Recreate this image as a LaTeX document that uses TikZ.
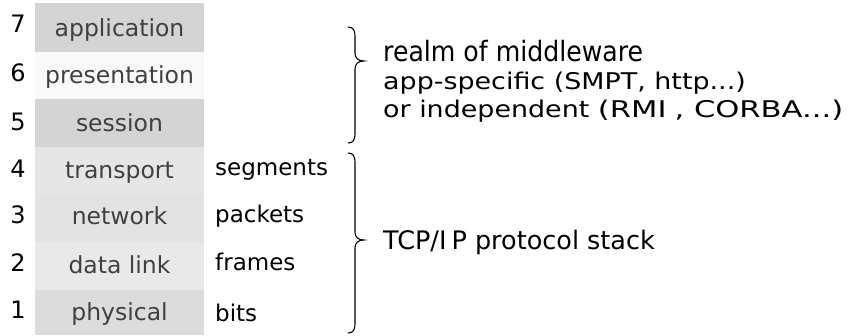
\documentclass[tikz,border=0pt]{standalone}
\usepackage{fontspec}
\setmainfont{DejaVu Sans}
\newfontfamily\widesans[FakeStretch=1.17]{DejaVu Sans}
\newfontfamily\widersans[FakeStretch=1.33]{DejaVu Sans}
\newfontfamily\tallsans[FakeStretch=0.9]{DejaVu Sans}
\definecolor{rowdark}{HTML}{D4D4D4}
\definecolor{rowwhite}{HTML}{F9F9F9}
\definecolor{rowfour}{HTML}{E6E6E6}
\definecolor{rowthree}{HTML}{E3E3E3}
\definecolor{rowtwo}{HTML}{E9E9E9}
\definecolor{rowone}{HTML}{DCDCDC}
\definecolor{layertext}{HTML}{404040}
% brace on the right of a group of layers: top, tip and bottom heights
\newcommand\layerbrace[3]{%
  \draw[bracepen] (348,#1) .. controls (353,#1) and (355,#1+3) .. (355,#1+9)
    -- (355,#2-8) .. controls (355,#2-3) and (358,#2) .. (364,#2)
    .. controls (358,#2) and (355,#2+3) .. (355,#2+8)
    -- (355,#3-9) .. controls (355,#3-3) and (353,#3) .. (348,#3);}
\begin{document}
\begin{tikzpicture}[x=1pt,y=-1pt,
  layername/.style={font=\fontsize{23.5}{26}\selectfont,text=layertext,anchor=base},
  layernum/.style={font=\fontsize{24}{26}\selectfont,anchor=base},
  unitname/.style={font=\fontsize{23}{26}\selectfont,anchor=base west,inner sep=0pt},
  note/.style={font=\widesans\fontsize{23}{26}\selectfont,anchor=base west,inner sep=0pt},
  title/.style={font=\tallsans\fontsize{28}{30}\selectfont,anchor=base west,inner sep=0pt},
  bracepen/.style={line width=1.1pt,black}]
\useasboundingbox (0,0) rectangle (856,335);
% layer bands
\fill[rowdark]  (35,3)   rectangle (204,52);
\fill[rowwhite] (35,52)  rectangle (204,99);
\fill[rowdark]  (35,99)  rectangle (204,147);
\fill[rowfour]  (35,147) rectangle (204,194);
\fill[rowthree] (35,194) rectangle (204,242);
\fill[rowtwo]   (35,242) rectangle (204,290);
\fill[rowone]   (35,290) rectangle (204,335);
% layer names
\node[layername] (app)   at (119.5,36)  {application};
\node[layername] (pres)  at (119.5,83)  {presentation};
\node[layername] (sess)  at (119.5,131) {session};
\node[layername] (trans) at (119.5,178) {transport};
\node[layername] (net)   at (119.5,224) {network};
\node[layername] (link)  at (119.5,273) {data link};
\node[layername] (phys)  at (119.5,320) {physical};
% layer numbers
\node[layernum] (n7) at (18,32)  {7};
\node[layernum] (n6) at (18,81)  {6};
\node[layernum] (n5) at (18,130) {5};
\node[layernum] (n4) at (18,177) {4};
\node[layernum] (n3) at (18,223) {3};
\node[layernum] (n2) at (18,271) {2};
\node[layernum] (n1) at (18,318) {1};
% data units
\node[unitname] (seg) at (215,175) {segments};
\node[unitname] (pkt) at (215,222) {packets};
\node[unitname] (frm) at (215,270) {frames};
\node[unitname] (bit) at (215,321) {bits};
% braces
\layerbrace{27}{61}{143}
\layerbrace{153}{240}{333}
% descriptions
\node[title] (realm) at (383,61) {realm of middleware};
\node[note] (spec) at (383,89) {app-specific (SMPT, http...)};
\node[note] (indep) at (383,117) {or independent {\widersans(RMI\hspace{8pt}, CORBA...)}};
\node[title,font=\fontsize{25.5}{28}\selectfont] (tcp) at (383,249) {TCP/I\hspace{5pt}P protocol stack};
\end{tikzpicture}
\end{document}
